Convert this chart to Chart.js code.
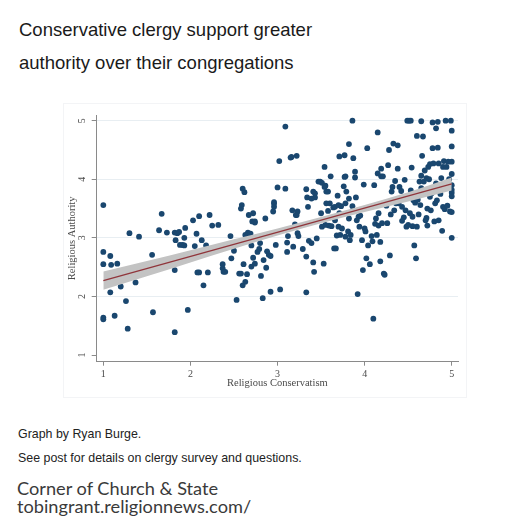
<!DOCTYPE html>
<html><head><meta charset="utf-8">
<script src="https://cdn.jsdelivr.net/npm/chart.js@4.4.1/dist/chart.umd.min.js"></script>
<style>
body{margin:0;width:515px;height:525px;background:#fff;position:relative;overflow:hidden;}
.t{position:absolute;white-space:nowrap;}
#frame{position:absolute;left:63px;top:103px;width:404px;height:295px;border:1px solid #f3f4f6;box-sizing:border-box;}
#c{position:absolute;left:60px;top:100px;}
</style></head><body>
<div class="t" style="left:19px;top:21px;font:18.5px/18px 'Liberation Sans',Arial,sans-serif;color:#1a1a1a">Conservative clergy support greater</div>
<div class="t" style="left:19px;top:54px;font:18.5px/18px 'Liberation Sans',Arial,sans-serif;color:#1a1a1a">authority over their congregations</div>
<div id="frame"></div>
<canvas id="c" width="410" height="300"></canvas>
<div class="t" style="left:18px;top:428px;font:12.4px/13px 'Liberation Sans',Arial,sans-serif;color:#222">Graph by Ryan Burge.</div>
<div class="t" style="left:18px;top:452px;font:12.4px/13px 'Liberation Sans',Arial,sans-serif;color:#222">See post for details on clergy survey and questions.</div>
<div class="t" style="left:17px;top:479px;font:18.2px/18px Lato,'Open Sans',sans-serif;color:#3a3a3a">Corner of Church &amp; State</div>
<div class="t" style="left:17px;top:497px;font:18.2px/18px Lato,'Open Sans',sans-serif;color:#3a3a3a">tobingrant.religionnews.com/</div>
<script>
// ---- data ----
const conservatism = [
1.00,1.00,1.00,1.00,1.00,1.08,1.09,1.08,1.13,1.16,1.20,1.26,1.28,1.30,1.37,1.41,1.56,1.57,1.64,1.67,
1.73,1.82,1.82,1.82,1.83,1.85,1.87,1.88,1.91,1.93,1.94,1.93,1.97,2.03,2.05,2.07,2.08,2.10,2.10,2.13,
2.15,2.18,2.20,2.22,2.25,2.32,2.37,2.37,2.38,2.40,2.46,2.47,2.50,2.53,2.56,2.58,2.58,2.59,2.60,2.62,
2.61,2.60,2.63,2.65,2.65,2.66,2.67,2.69,2.70,2.70,2.71,2.72,2.72,2.74,2.74,2.77,2.79,2.80,2.81,2.83,
2.84,2.86,2.87,2.88,2.90,2.92,2.92,2.95,2.96,2.96,2.98,3.00,3.02,3.03,3.09,3.09,3.11,3.11,3.12,3.15,
3.17,3.18,3.20,3.22,3.22,3.23,3.23,3.24,3.29,3.33,3.33,3.33,3.34,3.36,3.39,3.41,3.41,3.42,3.43,3.45,
3.47,3.49,3.50,3.51,3.51,3.53,3.54,3.55,3.56,3.58,3.59,3.61,3.64,3.65,3.67,3.68,3.69,3.70,3.71,3.71,
3.73,3.74,3.76,3.77,3.78,3.78,3.79,3.81,3.82,3.82,3.82,3.83,3.86,3.86,3.87,3.89,3.89,3.90,3.91,3.92,
3.93,3.94,3.97,3.98,3.99,4.00,4.01,4.02,4.03,4.04,4.06,4.08,4.09,4.10,4.11,4.12,4.13,4.14,4.15,4.15,
4.16,4.16,4.18,4.18,4.19,4.19,4.20,4.21,4.22,4.23,4.26,4.27,4.28,4.29,4.31,4.32,4.33,4.34,4.35,4.36,
4.38,4.38,4.39,4.40,4.43,4.43,4.46,4.47,4.48,4.49,4.50,4.51,4.52,4.53,4.53,4.54,4.55,4.56,4.57,4.58,
4.59,4.60,4.60,4.61,4.63,4.64,4.65,4.65,4.66,4.67,4.68,4.69,4.71,4.71,4.72,4.72,4.73,4.74,4.75,4.76,
4.77,4.78,4.78,4.79,4.80,4.81,4.82,4.82,4.83,4.84,4.84,4.85,4.87,4.88,4.89,4.90,4.90,4.91,4.92,4.93,
4.94,4.96,4.98,4.99,5.00,5.00,5.00,5.00,5.00,5.00,5.00,5.00,5.00,5.00,
2.63,2.74,2.96,3.16,3.39,3.43,3.54,3.56,3.60,3.66,3.70,3.77,3.35,3.21,3.55,3.62,3.72,3.78,3.84,3.95,
3.66,3.58,4.45,4.55,4.62,4.70,4.85,4.50,4.58,4.42,4.30,4.25,4.95,4.97,4.88,4.75,4.65
];
const authority = [
3.56,2.76,2.55,1.64,1.61,2.69,2.54,2.07,1.67,2.56,2.17,1.92,1.45,3.08,2.24,3.02,2.71,1.73,3.13,3.41,
3.09,1.39,2.45,3.09,2.96,3.08,3.10,2.88,2.88,3.00,3.17,2.87,1.77,3.30,2.86,3.07,2.41,3.37,2.41,2.96,
2.19,2.87,2.41,3.39,3.21,3.22,2.55,2.48,2.42,2.42,3.03,2.65,2.78,1.94,2.39,2.39,3.50,3.56,3.84,3.78,
2.55,2.19,2.25,2.38,3.03,3.09,3.39,3.07,2.51,2.87,3.28,2.66,3.42,3.26,2.56,2.76,2.81,2.91,2.35,1.97,
2.62,3.33,2.49,2.77,2.71,2.69,2.08,3.45,3.58,3.61,2.88,3.86,4.31,2.12,3.84,4.90,2.92,2.76,3.03,4.37,
3.47,2.85,3.23,4.40,3.39,3.45,3.08,3.03,2.81,3.83,2.07,2.68,3.69,2.95,2.91,3.79,2.58,2.42,3.69,2.99,
3.96,3.96,3.42,3.94,3.19,2.56,4.21,3.89,3.59,3.79,3.21,4.05,3.52,2.82,2.82,3.04,3.72,3.19,3.42,4.39,
3.54,3.16,3.88,4.41,3.59,4.05,3.79,3.11,3.67,3.33,4.60,2.96,5.00,3.54,4.36,4.13,4.03,3.69,3.30,2.04,
3.36,3.19,2.96,2.45,3.91,3.16,3.11,2.65,4.53,2.87,2.55,3.03,2.94,1.62,3.90,3.24,3.33,3.05,4.80,4.10,
3.21,3.42,2.60,2.93,4.18,4.05,3.25,4.05,2.39,2.37,3.25,4.24,4.50,2.70,3.79,3.87,4.61,3.47,3.97,3.59,
4.58,4.18,3.59,3.87,3.53,3.29,3.99,3.47,3.19,5.00,3.22,5.00,3.42,5.00,3.81,4.20,3.36,3.64,2.87,3.60,
2.65,4.74,3.19,3.65,3.96,3.56,4.06,4.99,4.40,4.73,3.96,4.15,3.34,4.02,3.50,3.21,4.21,4.00,4.26,3.47,
3.76,4.97,4.53,4.27,3.28,3.59,4.87,3.93,3.64,4.54,4.98,4.27,3.75,4.02,3.12,4.21,3.53,4.31,3.49,5.00,
4.21,4.30,3.45,5.00,4.83,4.56,4.30,4.09,3.90,3.82,3.77,3.71,3.44,3.00,
3.05,3.28,3.53,4.38,3.67,3.76,3.87,3.79,3.59,3.53,3.56,4.04,3.53,3.39,3.22,3.20,3.05,3.02,3.05,3.38,
3.30,3.46,3.35,3.20,3.40,3.30,3.30,3.70,3.75,3.80,3.40,3.55,3.55,4.00,3.85,3.70,3.85
];
// linear fit and 95% CI band
const fitX = [1, 5];
const fitY = [2.27, 3.92];
const ciX    = [1,     1.5,   2,     2.5,   3,     3.5,   4,     4.5,   5];
const ciHigh = [2.425, 2.605, 2.79,  2.975, 3.16,  3.355, 3.56,  3.78,  4.03];
const ciLow  = [2.115, 2.345, 2.58,  2.815, 3.04,  3.25,  3.44,  3.62,  3.81];
const xTicks = [1, 2, 3, 4, 5];
const yTicks = [1, 2, 3, 4, 5];

const AXIS = '#8a8a8a', TXT = '#4a4a4a', SERIF = "'Liberation Serif','Times New Roman',serif";

const yLabels = {
  id: 'yLabels',
  afterDraw(chart) {
    const s = chart.scales.y, ctx = chart.ctx;
    ctx.save();
    ctx.fillStyle = TXT;
    ctx.font = '10px ' + SERIF;
    ctx.textAlign = 'center';
    ctx.textBaseline = 'middle';
    yTicks.forEach(v => {
      const y = s.getPixelForValue(v);
      ctx.save();
      ctx.translate(s.right - 14, y);
      ctx.rotate(-Math.PI / 2);
      ctx.fillText(String(v), 0, 0);
      ctx.restore();
    });
    ctx.restore();
  }
};

new Chart(document.getElementById('c'), {
  type: 'scatter',
  data: { datasets: [
    { label: 'Fitted values', data: fitX.map((x, i) => ({x, y: fitY[i]})), showLine: true,
      borderColor: '#90353b', borderWidth: 1.3, pointRadius: 0, fill: false },
    { label: '95% CI', data: ciX.map((x, i) => ({x, y: ciHigh[i]})), showLine: true,
      borderColor: 'rgba(0,0,0,0)', borderWidth: 0, pointRadius: 0, backgroundColor: '#c3c3c3',
      fill: '+1', cubicInterpolationMode: 'monotone' },
    { label: 'ci low', data: ciX.map((x, i) => ({x, y: ciLow[i]})), showLine: true,
      borderColor: 'rgba(0,0,0,0)', borderWidth: 0, pointRadius: 0, fill: false,
      cubicInterpolationMode: 'monotone' },
    { label: 'Religious Authority', data: conservatism.map((x, i) => ({x, y: authority[i]})),
      pointRadius: 2.9, pointBackgroundColor: '#1a476f', pointBorderWidth: 0, showLine: false }
  ]},
  options: {
    responsive: false, animation: false, devicePixelRatio: 1,
    layout: { padding: { left: 0, right: 12, top: 15, bottom: 0 } },
    plugins: { legend: { display: false }, tooltip: { enabled: false } },
    events: [],
    scales: {
      x: {
        type: 'linear', min: 0.924, max: 5.072,
        afterBuildTicks: s => { s.ticks = xTicks.map(v => ({value: v})); },
        afterFit: s => { s.height = 38.3; },
        grid: { drawOnChartArea: false, drawTicks: true, tickLength: 4, tickColor: AXIS },
        border: { color: AXIS, width: 1 },
        ticks: { color: TXT, font: { family: SERIF, size: 10 }, padding: 3, maxRotation: 0, autoSkip: false },
        title: { display: true, text: 'Religious Conservatism', color: TXT,
                 font: { family: SERIF, size: 10.5 }, padding: { top: 0, bottom: 10.5 } }
      },
      y: {
        type: 'linear', min: 0.886, max: 5.097,
        afterBuildTicks: s => { s.ticks = yTicks.map(v => ({value: v})); },
        afterFit: s => { s.width = 36.7; },
        grid: { drawTicks: true, tickLength: 5, tickColor: AXIS,
                color: c => (c.tick && c.tick.value === 1) ? 'rgba(0,0,0,0)' : '#e8eef2' },
        border: { color: AXIS, width: 1 },
        ticks: { display: false },
        title: { display: true, text: 'Religious Authority', color: TXT,
                 font: { family: SERIF, size: 10.5 }, padding: { top: 6, bottom: 0 } }
      }
    }
  },
  plugins: [yLabels]
});
</script>
</body></html>
